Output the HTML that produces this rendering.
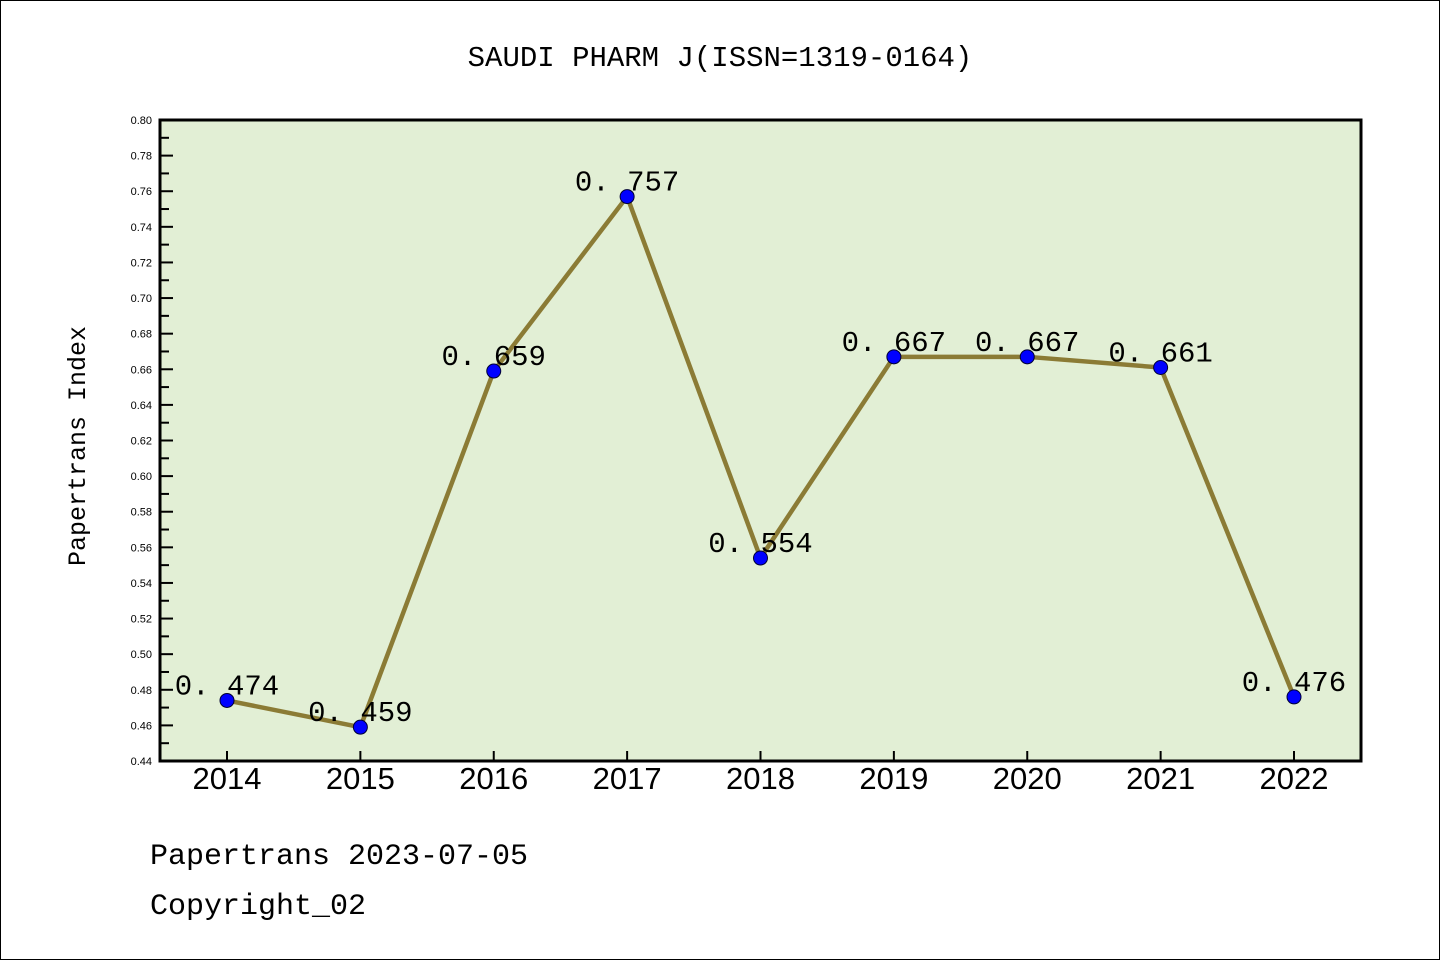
<!DOCTYPE html>
<html><head><meta charset="utf-8"><style>
body{margin:0;background:#fff}
svg{display:block}
</style></head><body>
<svg width="1440" height="960" viewBox="0 0 1440 960">
<rect x="0.5" y="0.5" width="1439" height="959" fill="#fff" stroke="#000" stroke-width="1"/>
<text x="720" y="66" text-anchor="middle" font-family="Liberation Mono, monospace" font-size="29">SAUDI PHARM J(ISSN=1319-0164)</text>
<rect x="160" y="120" width="1201" height="641" fill="#e2efd5"/>
<g id="axes"></g>
<g id="series"></g>
<rect x="160" y="120" width="1201" height="641" fill="none" stroke="#000" stroke-width="3"/>
<text transform="translate(85,446) rotate(-90)" text-anchor="middle" font-family="Liberation Mono, monospace" font-size="25">Papertrans Index</text>
<text x="150" y="864" font-family="Liberation Mono, monospace" font-size="30">Papertrans 2023-07-05</text>
<text x="150" y="914" font-family="Liberation Mono, monospace" font-size="30">Copyright_02</text>
</svg>
<script>
const years = ["2014","2015","2016","2017","2018","2019","2020","2021","2022"];
const values = [0.474,0.459,0.659,0.757,0.554,0.667,0.667,0.661,0.476];
const labels = ["0.474","0.459","0.659","0.757","0.554","0.667","0.667","0.661","0.476"];
const yTicks = ["0.44","0.46","0.48","0.50","0.52","0.54","0.56","0.58","0.60","0.62","0.64","0.66","0.68","0.70","0.72","0.74","0.76","0.78","0.80"];
const NS="http://www.w3.org/2000/svg";
const yMin=0.44,yMax=0.80,plotTop=120,plotBot=761;
const yS=v=>plotBot-(v-yMin)/(yMax-yMin)*(plotBot-plotTop);
const xS=i=>227+i*(1294-227)/(years.length-1);
function mk(t,a,p){const e=document.createElementNS(NS,t);for(const k in a)e.setAttribute(k,a[k]);p.appendChild(e);return e;}
const ax=document.getElementById('axes'),sr=document.getElementById('series');
yTicks.forEach((t,i)=>{
  const v=parseFloat(t),yy=yS(v);
  const l=mk('line',{x1:160,x2:173,y1:yy,y2:yy,stroke:'#000','stroke-width':2},ax);
  
  
  const tx=mk('text',{x:152,y:yy+4,'text-anchor':'end','font-family':'Liberation Sans, sans-serif','font-size':11},ax);
  tx.textContent=t;
  
  
  if(i<yTicks.length-1){
    const ym=yS(v+0.01);
    const m=mk('line',{x1:160,x2:169,y1:ym,y2:ym,stroke:'#000','stroke-width':2},ax);
    
    
  }
});
years.forEach((yr,i)=>{
  const l=mk('line',{x1:xS(i),x2:xS(i),y1:plotBot,y2:plotBot-10,stroke:'#000','stroke-width':2},ax);
  
  
  const t=mk('text',{x:xS(i),y:789,'text-anchor':'middle','font-family':'Liberation Sans, sans-serif','font-size':31},ax);
  t.textContent=yr;
  
  
});
const pl=mk('polyline',{points:values.map((v,i)=>xS(i)+','+yS(v)).join(' '),fill:'none',stroke:'#8b7b35','stroke-width':4.5,'stroke-linejoin':'round'},sr);


values.forEach((v,i)=>{
  const c=mk('circle',{cx:xS(i),cy:yS(v),r:7,fill:'#0000ff',stroke:'#000033','stroke-width':1},sr);
  
  
  const t=mk('text',{x:xS(i),y:yS(v)-6,'text-anchor':'middle','font-family':'Liberation Mono, monospace','font-size':29},sr);
  t.textContent=labels[i].replace('.','. ');
  
  
});
</script>
</body></html>
